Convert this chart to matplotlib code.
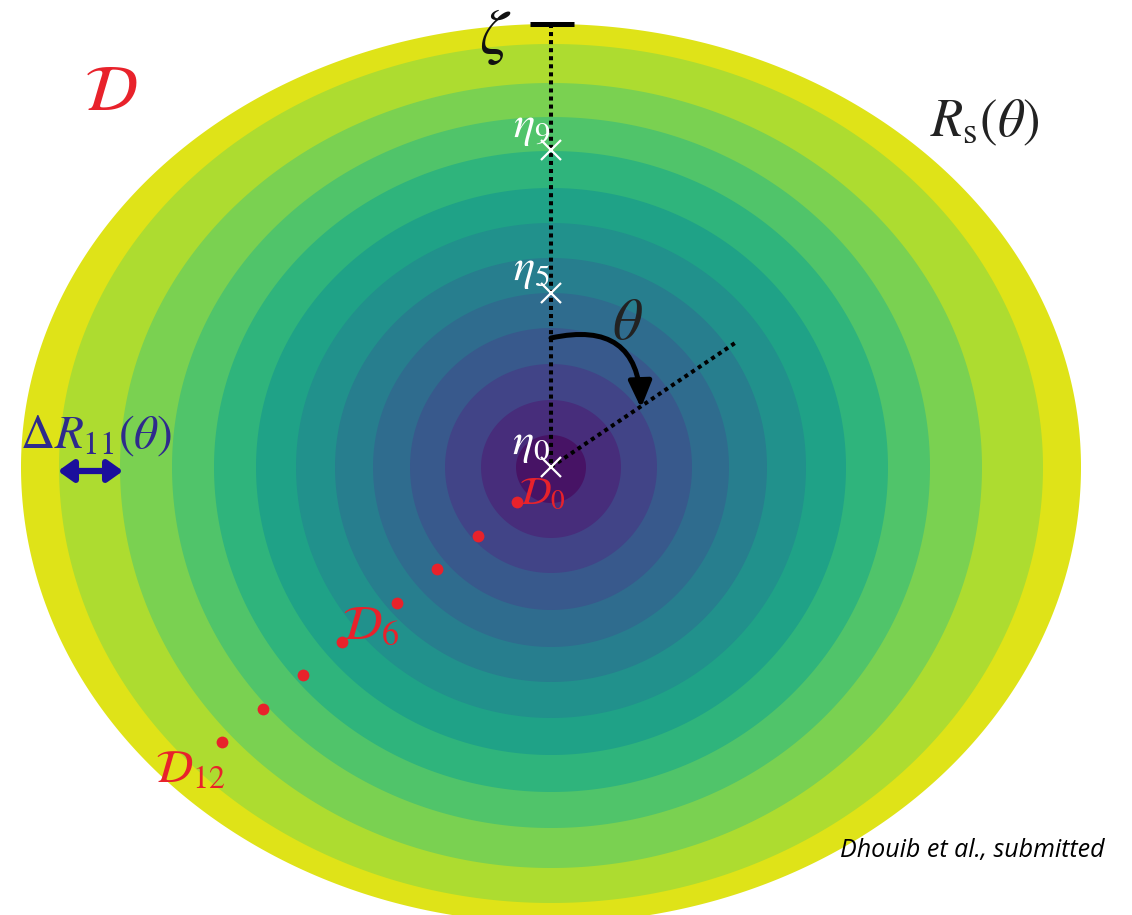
import matplotlib
matplotlib.use("Agg")
import matplotlib.pyplot as plt
import numpy as np
from matplotlib.colors import Normalize

plt.rcParams['mathtext.fontset'] = 'stix'

# ---------------- data ----------------
center = (551, 467)
# ring boundaries (innermost disc -> outermost ring), in pixels from the centre
ring_levels = [0, 1, 2, 3, 4, 5, 6, 7, 8, 9, 10, 11, 12]
ring_rx = [35, 70, 106, 141, 178, 216, 255, 295, 337, 379, 431, 492, 530]
ring_ry_up = [32, 67, 103, 139, 174, 209, 244, 279, 316, 350, 384, 423, 443]
ring_ry_down = [36, 71, 106, 143, 180, 215, 251, 288, 325, 361, 401, 436, 456]

eta_labels = [r'$\eta_0$', r'$\eta_5$', r'$\eta_9$']
eta_y = [467, 293, 150]

dots_x = [517, 478, 437, 397, 342, 303, 263, 222]
dots_y = [502, 536, 569, 603, 642, 675, 709, 742]

zeta_top = 24
theta_end = (735, 343)

# ---------------- figure ----------------
fig = plt.figure(figsize=(11.32, 9.15), dpi=100)
ax = fig.add_axes([0, 0, 1, 1])
ax.set_xlim(0, 1132)
ax.set_ylim(915, 0)
ax.axis('off')

cmap = plt.get_cmap('viridis')
norm = Normalize(vmin=-2 / 3, vmax=12 + 2 / 3)

t = np.linspace(0, 2 * np.pi, 721)
cx, cy = center
for lev, rx, ru, rd in reversed(list(zip(ring_levels, ring_rx, ring_ry_up, ring_ry_down))):
    s = np.sin(t)
    xs = cx + rx * np.cos(t)
    ys = cy - np.where(s > 0, ru, rd) * s
    ax.fill(xs, ys, color=cmap(norm(lev)), lw=0, zorder=1)

# zeta marker bar and vertical dotted line
ax.plot([530, 574], [zeta_top, zeta_top], color='black', lw=3.6, solid_capstyle='butt', zorder=3)
ax.plot([cx, cx], [zeta_top, cy], color='black', lw=2.9, linestyle=(0, (1, 1)), zorder=3)
ax.plot([cx, theta_end[0]], [cy, theta_end[1]], color='black', lw=2.9, linestyle=(0, (1, 1)), zorder=3)

# theta arrow
ax.annotate('', xy=(641, 408), xytext=(551, 338),
            arrowprops=dict(arrowstyle='-|>,head_length=0.8,head_width=0.35', mutation_scale=20,
                            connectionstyle='arc3,rad=-0.6', lw=3.6, color='black',
                            shrinkA=0, shrinkB=0), zorder=4)

# eta crosses and labels
ax.plot([cx] * len(eta_y), eta_y, 'x', color='white', ms=14, mew=1.6, zorder=5)
for lab, y in zip(eta_labels, eta_y):
    ax.text(cx - 1, y - 2, lab, color='white', fontsize=32, ha='right', va='bottom', zorder=5)

# red dots
ax.plot(dots_x, dots_y, 'o', color='#e8222b', ms=8.5, mec='none', zorder=5)

red = '#e8222b'
ax.text(111, 92, r'$\mathcal{D}$', color=red, fontsize=47, ha='center', va='center', zorder=6)
ax.text(519, 493, r'$\mathcal{D}_0$', color=red, fontsize=28, ha='left', va='center', zorder=6)
ax.text(342, 624, r'$\mathcal{D}_6$', color=red, fontsize=35, ha='left', va='center', zorder=6)
ax.text(155, 769, r'$\mathcal{D}_{12}$', color=red, fontsize=33, ha='left', va='center', zorder=6)

ax.text(495, 36, r'$\zeta$', color='#111111', fontsize=46, ha='center', va='center', zorder=6)
ax.text(627, 322, r'$\theta$', color='#222222', fontsize=42, ha='center', va='center', zorder=6)
ax.text(930, 122, r'$R_\mathrm{s}(\theta)$', color='#222222', fontsize=38, ha='left', va='center', zorder=6)

ax.text(20, 436, r'$\Delta R_{11}(\theta)$', color='#2e2a8c', fontsize=34, ha='left', va='center', zorder=6)
ax.annotate('', xy=(123, 471), xytext=(58, 471),
            arrowprops=dict(arrowstyle='<|-|>,head_length=0.45,head_width=0.32', mutation_scale=20,
                            lw=4.5, color='#1b0f9c', shrinkA=0, shrinkB=0), zorder=6)

ax.text(840, 850, 'Dhouib et al., submitted', fontsize=18, fontstyle='italic',
        family=['Open Sans', 'DejaVu Sans'], ha='left', va='center', color='black', zorder=6)

fig.savefig('out.png', dpi=100)
